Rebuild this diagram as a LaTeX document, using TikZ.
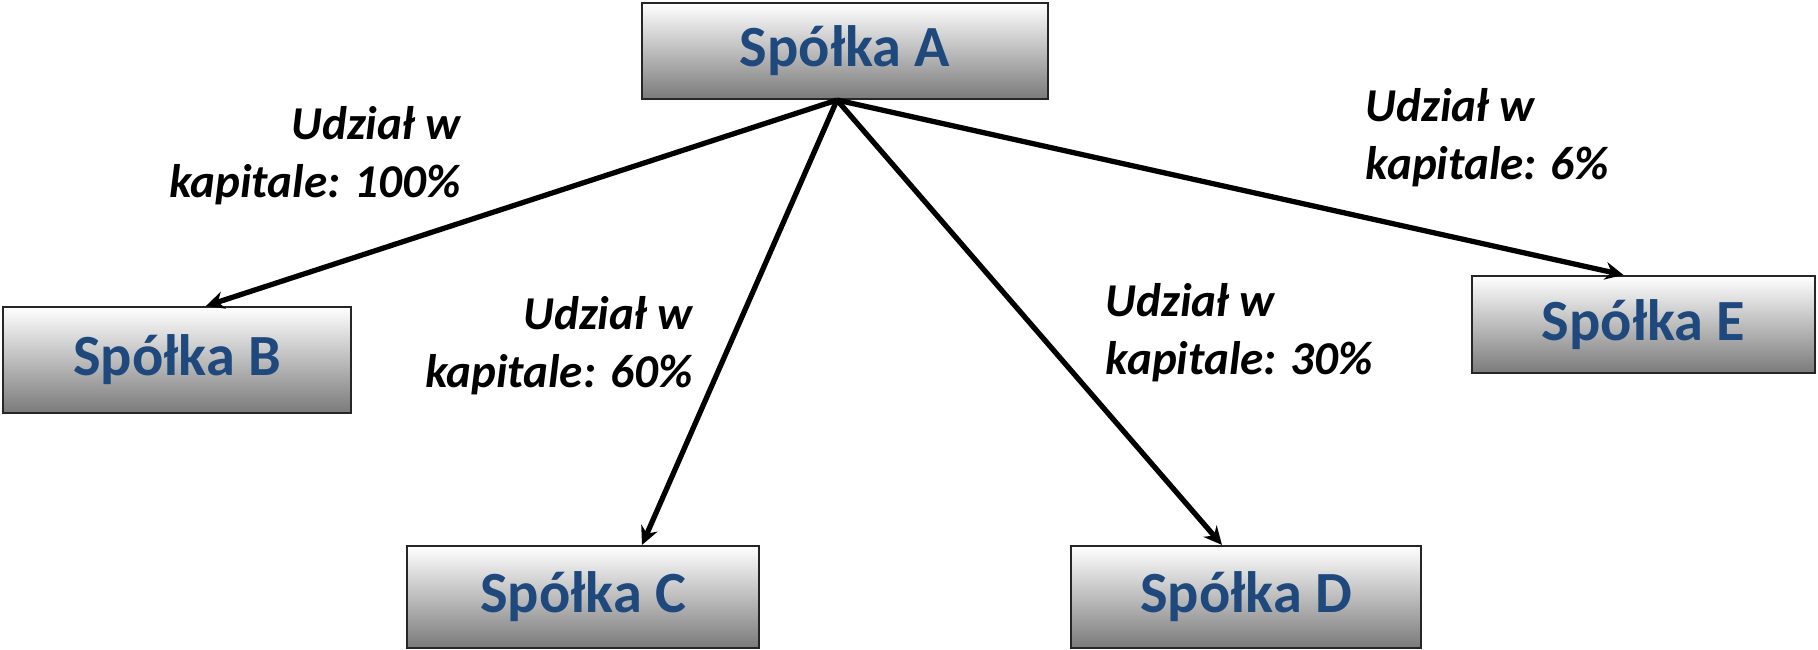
\documentclass[tikz,border=0pt]{standalone}
\usepackage{fontspec}
\setmainfont{Carlito}
\usepackage{tikz}
\usetikzlibrary{arrows.meta}
\definecolor{firmblue}{RGB}{31,73,125}

\begin{document}
\begin{tikzpicture}[
    firm/.style={draw=black!85, line width=0.6pt, top color=white, middle color=black!18,
      bottom color=black!52, minimum width=#1, inner sep=0pt, text=firmblue,
      font=\fontsize{16.6}{20}\selectfont\bfseries},
    share/.style={font=\fontsize{13.4}{16.5}\selectfont\bfseries\itshape, inner sep=0pt},
    link/.style={line width=1.5pt, -{Stealth[length=5.2pt,width=5pt]}}
  ]
   \useasboundingbox (0,0) rectangle (18.18,6.5);

   % spolki
   \node[firm=4.06cm, minimum height=0.96cm] (A) at (8.45,5.99) {Spółka A};
   \node[firm=3.48cm, minimum height=1.06cm] (B) at (1.77,2.90) {Spółka B};
   \node[firm=3.52cm, minimum height=1.02cm] (C) at (5.83,0.53) {Spółka C};
   \node[firm=3.50cm, minimum height=1.02cm] (D) at (12.46,0.53) {Spółka D};
   \node[firm=3.43cm, minimum height=0.97cm] (E) at (16.435,3.255) {Spółka E};

   % udzialy
   \draw[link] ([xshift=-0.08cm]A.south) -- ([xshift=0.29cm]B.north);
   \draw[link] ([xshift=-0.08cm]A.south) -- ([xshift=0.59cm]C.north);
   \draw[link] ([xshift=-0.08cm]A.south) -- ([xshift=-0.24cm]D.north);
   \draw[link] ([xshift=-0.08cm]A.south) -- ([xshift=-0.20cm]E.north);

   \node[share, align=right, anchor=east] (sB) at (4.61,4.94) {Udział w\\kapitale: 100\%};
   \node[share, align=right, anchor=east] (sC) at (6.93,3.04) {Udział w\\kapitale: 60\%};
   \node[share, align=left, anchor=west] (sD) at (11.05,3.17) {Udział w\\kapitale: 30\%};
   \node[share, align=left, anchor=west] (sE) at (13.65,5.12) {Udział w\\kapitale: 6\%};
 \end{tikzpicture}
\end{document}
